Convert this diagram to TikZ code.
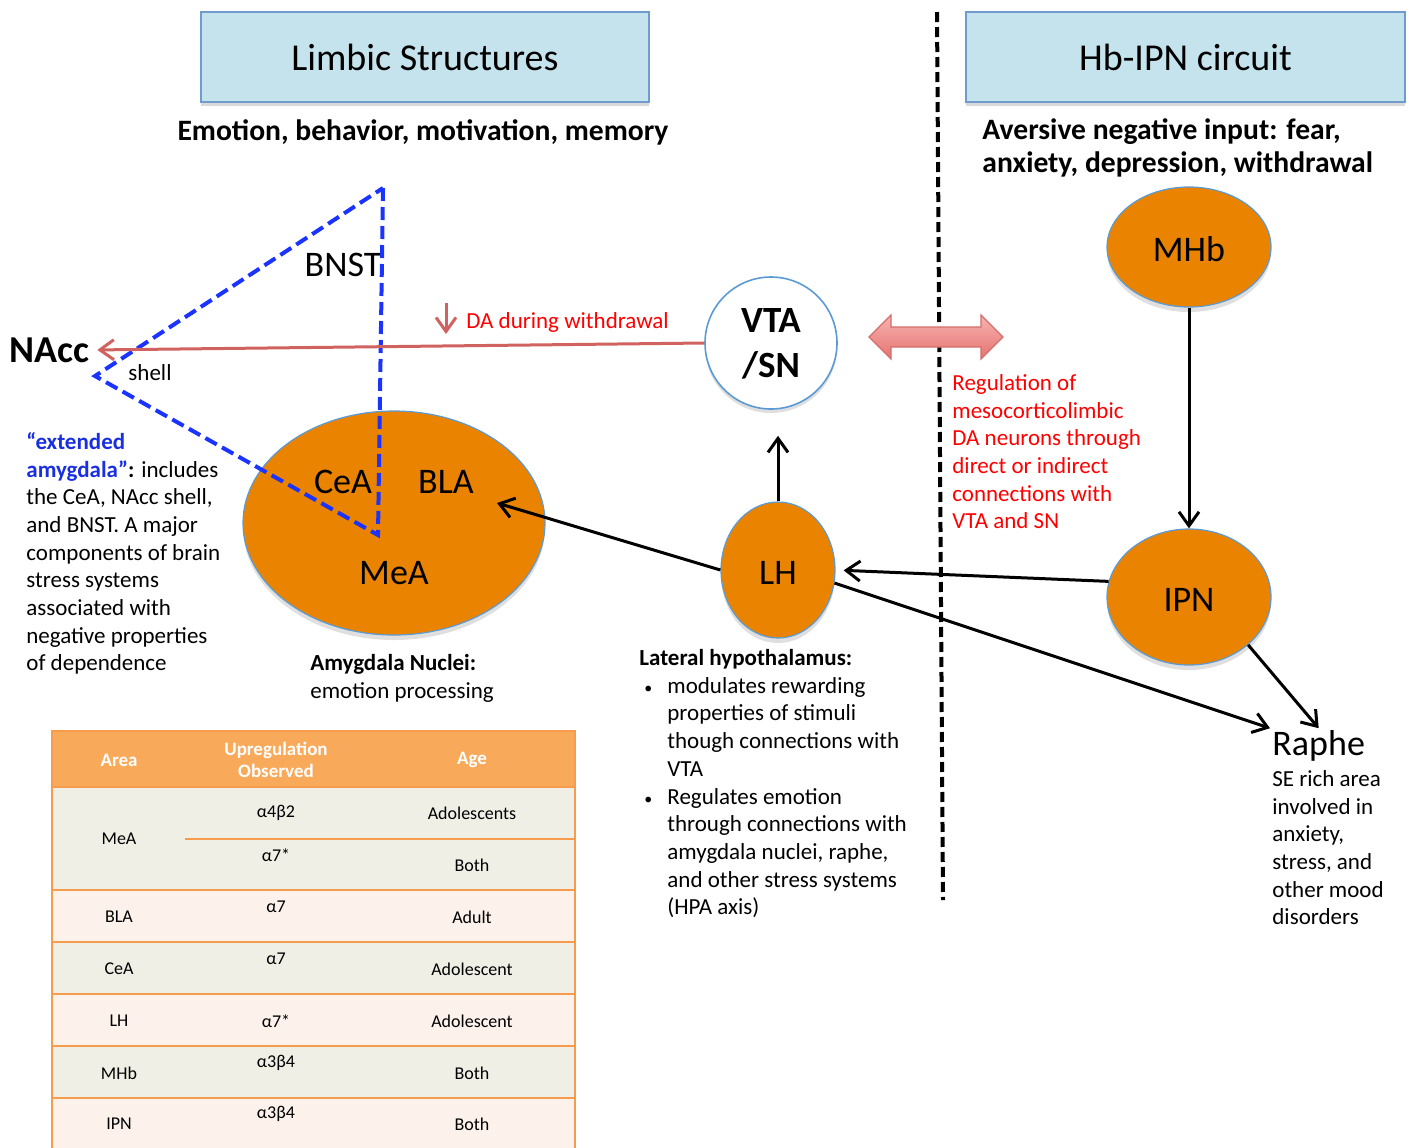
\documentclass[tikz,border=0pt]{standalone}
\usepackage{fontspec}
\setmainfont{Carlito}
\usetikzlibrary{arrows.meta,positioning,shapes.geometric,shadows}

\definecolor{boxfill}{HTML}{C4E3EC}
\definecolor{boxline}{HTML}{6F9BCD}
\definecolor{nucorange}{HTML}{E98300}
\definecolor{nucedge}{HTML}{5B9BD5}
\definecolor{daline}{HTML}{D0625F}
\definecolor{redtext}{HTML}{FF0000}
\definecolor{dashblue}{HTML}{1A33FF}
\definecolor{extblue}{HTML}{1A2FE0}
\definecolor{linktop}{HTML}{F7B3B1}
\definecolor{linkbot}{HTML}{E57370}
\definecolor{linkedge}{HTML}{D26E6C}
\definecolor{thead}{HTML}{F9A95A}
\definecolor{rowgray}{HTML}{EFEFE6}
\definecolor{rowpeach}{HTML}{FCF1EB}
\definecolor{tline}{HTML}{F79B4C}

\newcommand{\lhbul}{\makebox[14pt][l]{\hspace{2.5pt}{\fontsize{8}{8}\selectfont •}}}
\newcommand{\lhind}{\hspace*{14pt}}

\begin{document}
\begin{tikzpicture}[x=0.5pt,y=-0.5pt,
  headbox/.style={draw=boxline,fill=boxfill,line width=0.8pt,minimum width=224pt,minimum height=45pt,
    font=\fontsize{19}{23}\selectfont,drop shadow={opacity=0.3,shadow xshift=0pt,shadow yshift=-2pt}},
  subhead/.style={font=\bfseries\fontsize{14.8}{16.5}\selectfont,inner sep=0pt},
  nucleus/.style={ellipse,draw=nucedge,line width=0.6pt,fill=nucorange,inner sep=0pt,
    text height=14.5pt,text depth=0pt,
    font=\fontsize{18}{22}\selectfont,drop shadow={opacity=0.25,shadow xshift=0pt,shadow yshift=-2.5pt}},
  vtacircle/.style={circle,draw=nucedge,line width=0.8pt,fill=white,minimum size=66pt,inner sep=0pt,align=center,
    text depth=0pt,
    font=\bfseries\fontsize{18.5}{22.5}\selectfont,drop shadow={opacity=0.25,shadow xshift=0pt,shadow yshift=-2pt}},
  lbl/.style={font=\fontsize{18}{22}\selectfont,inner sep=1pt},
  bodytext/.style={font=\fontsize{11.5}{13.85}\selectfont,align=left,inner sep=0pt},
  conn/.style={line width=1.5pt,-{Straight Barb[length=7pt,width=10pt]}},
  daarrow/.style={draw=daline,line width=1.5pt,-{Straight Barb[length=7pt,width=10pt]}},
  extamyg/.style={draw=dashblue,line width=2pt,dash pattern=on 6.5pt off 3pt},
  divider/.style={line width=2pt,dash pattern=on 5pt off 2.5pt},
  thtext/.style={font=\bfseries\fontsize{9.5}{11}\selectfont,text=white,align=center,inner sep=0pt},
  tcell/.style={font=\fontsize{9}{11}\selectfont,inner sep=0pt}
]
  \useasboundingbox (0,0) rectangle (1413,1147);

  % section headers
  \node[headbox] (limbic) at (425,57) {Limbic Structures};
  \node[headbox,minimum width=219.5pt] (hbipn) at (1185.5,57) {Hb-IPN circuit};
  \node[subhead] (limbicsub) at (423,132) {Emotion, behavior, motivation, memory};
  \node[subhead,align=left,anchor=north west] (hbsub) at (982,118) {Aversive negative input: fear,\\anxiety, depression, withdrawal};

  \draw[divider] (937,12) -- (943,900);

  % nuclei
  \node[nucleus,minimum width=151pt,minimum height=112pt] (amyg) at (394,523) {};
  \node[nucleus,minimum width=82pt,minimum height=60pt] (mhb) at (1189,247) {MHb};
  \node[nucleus,minimum width=82pt,minimum height=68pt] (ipn) at (1189,597) {IPN};
  \node[nucleus,minimum width=57pt,minimum height=68pt] (lh) at (778,570) {LH};
  \node[vtacircle] (vta) at (771,343) {VTA\\/SN};

  \node[lbl] (cea) at (343,482) {CeA};
  \node[lbl] (bla) at (446,482) {BLA};
  \node[lbl] (mea) at (394,573) {MeA};
  \node[lbl] (bnst) at (343,265) {BNST};
  \node[font=\bfseries\fontsize{19}{23}\selectfont,inner sep=1pt] (nacc) at (49,350) {NAcc};
  \node[bodytext] (shell) at (150,373) {shell};
  \node[lbl,anchor=west] (raphe) at (1270,746) {Raphe};

  % extended amygdala outline
  \coordinate (bnsttop) at (383,188);
  \coordinate (amygpt) at (378,535);
  \coordinate (shelltip) at (95,376);
  \draw[extamyg] (bnsttop) -- (amygpt) -- (shelltip) -- cycle;

  % DA output
  \draw[daarrow,shorten >=3pt] (vta.west) -- (nacc.east);
  \coordinate (dntop) at (446,303);
  \coordinate (dnbot) at (446,334);
  \draw[daarrow] (dntop) -- (dnbot);
  \node[bodytext,text=redtext,anchor=west] (datext) at (466,322) {DA during withdrawal};

  % link between the two circuits
  \draw[linkedge,line width=0.6pt,top color=linktop,bottom color=linkbot]
    (869,337) -- (891,315) -- (891,327) -- (981,327) -- (981,315) -- (1003,337)
    -- (981,359) -- (981,347) -- (891,347) -- (891,359) -- cycle;

  % connections
  \draw[conn] (mhb) -- (ipn);
  \draw[conn,shorten >=4pt] (ipn.169) -- (lh.east);
  \draw[conn,shorten >=13pt] (lh.north) -- (lh.north |- vta.south);
  \coordinate (blain) at (497,503);
  \draw[conn] (lh.west) -- (blain);
  \draw[conn] (lh.-13) -- (raphe.north west);
  \draw[conn] (ipn.-39) -- (raphe.north);

  % notes
  \node[bodytext,anchor=north west] (extnote) at (26,432)
    {\textcolor{extblue}{\bfseries “extended}\\\textcolor{extblue}{\bfseries amygdala”}\textbf{:} includes\\the CeA, NAcc shell,\\and BNST. A major\\components of brain\\stress systems\\associated with\\negative properties\\of dependence};
  \node[bodytext,anchor=north west] (amygnote) at (310,654) {\textbf{Amygdala Nuclei:}\\emotion processing};
  \node[bodytext,anchor=north west] (lhnote) at (639,649)
    {\textbf{Lateral hypothalamus:}\\\lhbul modulates rewarding\\\lhind properties of stimuli\\\lhind though connections with\\\lhind VTA\\\lhbul Regulates emotion\\\lhind through connections with\\\lhind amygdala nuclei, raphe,\\\lhind and other stress systems\\\lhind (HPA axis)};
  \node[bodytext,text=redtext,anchor=north west] (regnote) at (952,374)
    {Regulation of\\mesocorticolimbic\\DA neurons through\\direct or indirect\\connections with\\VTA and SN};
  \node[bodytext,anchor=north west] (raphenote) at (1272,770) {SE rich area\\involved in\\anxiety,\\stress, and\\other mood\\disorders};

  % table
  \fill[thead] (52,731) rectangle (575,787);
  \fill[rowgray] (52,787) rectangle (575,890);
  \fill[rowpeach] (52,890) rectangle (575,942);
  \fill[rowgray] (52,942) rectangle (575,994);
  \fill[rowpeach] (52,994) rectangle (575,1046);
  \fill[rowgray] (52,1046) rectangle (575,1098);
  \fill[rowpeach] (52,1098) rectangle (575,1150);
  \draw[tline,line width=1pt] (52,1150) -- (52,731) -- (575,731) -- (575,1150);
  \foreach \y in {787,890,942,994,1046,1098}
    \draw[tline,line width=1pt] (52,\y) -- (575,\y);
  \draw[tline,line width=1pt] (185,839) -- (575,839);

  \node[thtext] (tharea) at (119,760) {Area};
  \node[thtext] (thupr) at (276,760) {Upregulation\\Observed};
  \node[thtext] (thage) at (472,760) {Age};

  \node[tcell] (tamea) at (119,839) {MeA};
  \node[tcell] (trmeaa) at (276,813) {α4β2};
  \node[tcell] (tgmeaa) at (472,813) {Adolescents};
  \node[tcell] (trmeab) at (276,855) {α7*};
  \node[tcell] (tgmeab) at (472,865) {Both};
  \foreach \n/\y/\area/\rec/\dy/\age in {bla/917/BLA/α7/-10/Adult,cea/969/CeA/α7/-10/Adolescent,
      lh/1021/LH/α7*/0/Adolescent,mhb/1073/MHb/α3β4/-10/Both,ipn/1124/IPN/α3β4/-10/Both}{
    \node[tcell] (ta\n) at (119,\y) {\area};
    \node[tcell] (tr\n) at (276,\y+\dy) {\rec};
    \node[tcell] (tg\n) at (472,\y) {\age};
  }
\end{tikzpicture}
\end{document}
